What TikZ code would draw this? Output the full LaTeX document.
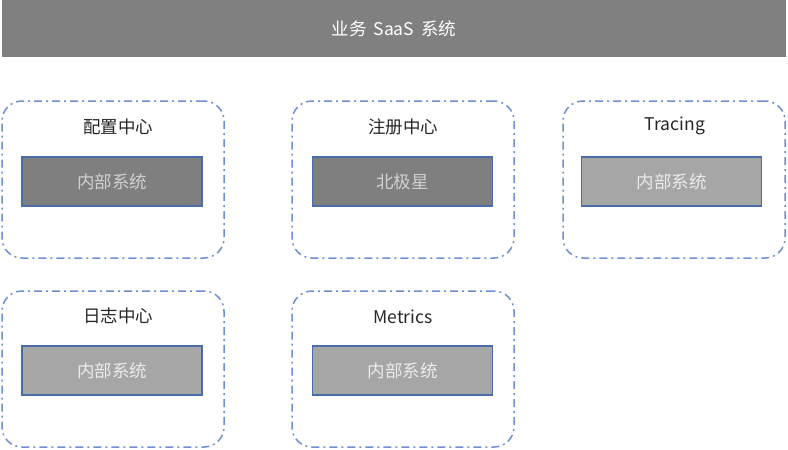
\documentclass[tikz,border=0pt]{standalone}
\usepackage{fontspec}
\setmainfont{Noto Sans CJK SC}
\usetikzlibrary{positioning}
\definecolor{bargray}{HTML}{808080}
\definecolor{darkbox}{HTML}{7F7F7F}
\definecolor{lightbox}{HTML}{A6A6A6}
\definecolor{boxedge}{HTML}{4A6DA7}
\definecolor{groupedge}{HTML}{6E8FD2}
\begin{document}
\begin{tikzpicture}[
    x=1pt, y=-1pt,
    bar/.style={
        fill=bargray,
        minimum width=784pt,
        minimum height=57pt,
        text=white,
        font=\fontsize{17.5}{20}\selectfont,
      },
    group/.style={
        draw=groupedge,
        line width=1.5pt,
        dash pattern=on 8pt off 4pt on 2pt off 4pt,
        rounded corners=20pt,
        minimum width=222pt,
        minimum height=157pt,
      },
    title/.style={
        font=\fontsize{17.5}{20}\selectfont,
        text=black!85,
      },
    inner/.style={
        draw=boxedge,
        line width=1.8pt,
        minimum width=180pt,
        minimum height=49pt,
        font=\fontsize{17.5}{20}\selectfont,
      },
    dark/.style={inner, fill=darkbox, text=black!18},
    light/.style={inner, fill=lightbox, text=black!8}
  ]
  \useasboundingbox (0,0) rectangle (788,450);
  \node[bar] (saas) at (394,28.5) {业务\hspace{0.4em}SaaS\hspace{0.4em}系统};

  \node[group] (g1) at (113,179.5) {};
  \node[group] (g2) at (403,179.5) {};
  \node[group] (g3) at (674,179.5) {};
  \node[group,minimum height=156pt] (g4) at (113,369) {};
  \node[group,minimum height=156pt] (g5) at (403,369) {};

  \node[title] (t1) at (118,127) {配置中心};
  \node[title] (t2) at (403,127) {注册中心};
  \node[title] (t3) at (675,126) {Tracing};
  \node[title] (t4) at (118,316) {日志中心};
  \node[title] (t5) at (403,317) {Metrics};

  \node[dark] (b1) at (112,181.5) {内部系统};
  \node[dark] (b2) at (402.5,181.5) {北极星};
  \node[light] (b3) at (671.5,181.5) {内部系统};
  \node[light] (b4) at (112,370.5) {内部系统};
  \node[light] (b5) at (402.5,370.5) {内部系统};
\end{tikzpicture}
\end{document}
